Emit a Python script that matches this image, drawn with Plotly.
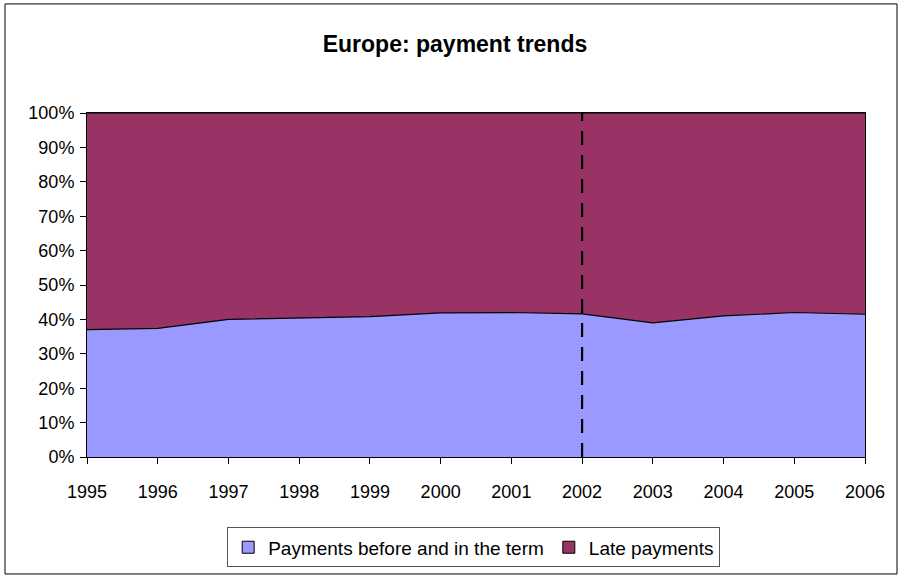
import plotly.graph_objects as go

# Share of payments per year (percent)
years = [1995, 1996, 1997, 1998, 1999, 2000, 2001, 2002, 2003, 2004, 2005, 2006]
on_time = [37.0, 37.4, 40.0, 40.4, 40.8, 41.9, 42.0, 41.6, 39.0, 41.0, 42.0, 41.5]
late = [100 - v for v in on_time]
series_names = ["Payments before and in the term", "Late payments"]
series_colors = ["#9999FF", "#993366"]
marker_year = 2002

W, H = 901, 579
L, R, T, B = 87, 865, 113, 460
pw, ph = R - L, B - T

fig = go.Figure()

# Stacked areas
for vals, name, col in zip([on_time, late], series_names, series_colors):
    fig.add_trace(go.Scatter(
        x=years, y=vals, stackgroup="pay", name=name,
        mode="lines", line=dict(color="black", width=1.2),
        fillcolor=col, showlegend=False, hoverinfo="x+y+name",
    ))

# Square legend swatches
for name, col in zip(series_names, series_colors):
    fig.add_trace(go.Bar(
        x=[None], y=[None], name=name,
        marker=dict(color=col, line=dict(color="black", width=1)),
    ))


def px_x(p):
    return (p - L) / pw


def px_y(p):
    return (B - p) / ph


fig.update_layout(
    width=W, height=H,
    margin=dict(l=L, r=W - R, t=T, b=H - B),
    paper_bgcolor="white", plot_bgcolor="white",
    font=dict(family="Liberation Sans, Arial, sans-serif", size=18, color="black"),
    title=dict(
        text="<b>Europe: payment trends</b>",
        x=0.505, xref="container", xanchor="center",
        y=1 - 44 / H, yanchor="middle",
        font=dict(size=23, color="black"),
    ),
    xaxis=dict(
        range=[years[0], years[-1]], tickmode="array", tickvals=years,
        ticktext=[str(y) for y in years],
        showgrid=False, zeroline=False,
        showline=True, linecolor="black", linewidth=1, mirror=True,
        ticks="outside", ticklen=6, tickcolor="black",
        ticklabelstandoff=12,
    ),
    yaxis=dict(
        range=[0, 100], dtick=10, ticksuffix="%",
        showgrid=False, zeroline=False,
        showline=True, linecolor="black", linewidth=1, mirror=True,
        ticks="outside", ticklen=6, tickcolor="black",
        ticklabelstandoff=2,
    ),
    legend=dict(
        orientation="h", x=0.497, xanchor="center",
        y=px_y(531), yanchor="top", traceorder="normal",
        bordercolor="#555555", borderwidth=1,
        font=dict(size=19), itemwidth=30, tracegroupgap=0,
    ),
    barmode="overlay",
    showlegend=True,
    shapes=[
        # dashed divider
        dict(type="line", xref="x", yref="paper", x0=marker_year, x1=marker_year,
             y0=0, y1=1, line=dict(color="black", width=2.2, dash="14px,10px")),
        # chart frame
        dict(type="rect", xref="paper", yref="paper",
             x0=px_x(5), x1=px_x(897), y0=px_y(578), y1=px_y(3),
             line=dict(color="black", width=1)),
    ],
)

fig.write_html("out.html")
